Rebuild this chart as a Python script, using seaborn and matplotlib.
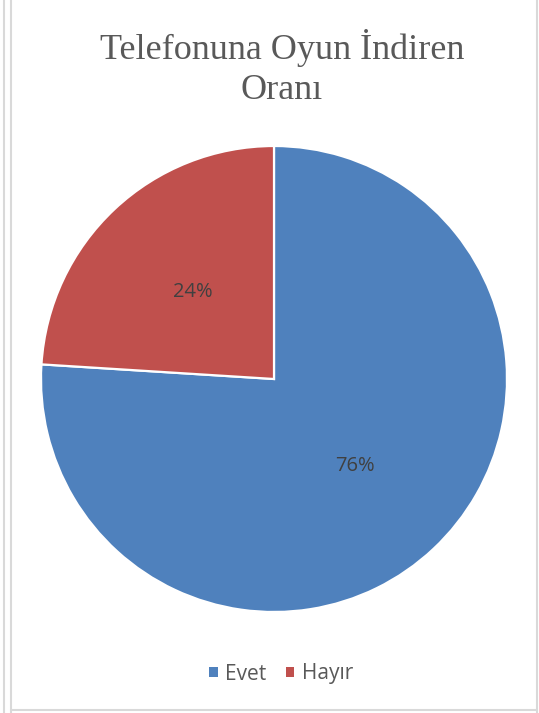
import matplotlib
matplotlib.use("Agg")
import matplotlib.pyplot as plt
from matplotlib.lines import Line2D
from matplotlib.patches import Patch
import seaborn as sns

categories = ["Evet", "Hayır"]
values = [76, 24]
colors = ["#4F81BD", "#C0504D"]
title = "Telefonuna Oyun İndiren\nOranı"

sns.set_theme(style="white")
plt.rcParams["font.family"] = ["Open Sans", "DejaVu Sans"]

W, H = 539, 713
fig = plt.figure(figsize=(W / 100, H / 100), dpi=100)

# pie area: centre (274, 379) px, radius 233 px
cx, cy, r = 274, 379, 233
ax = fig.add_axes([(cx - r) / W, (H - cy - r) / H, 2 * r / W, 2 * r / H])
wedges, texts, autotexts = ax.pie(
    values,
    colors=colors,
    startangle=90,
    counterclock=False,
    autopct="%1.0f%%",
    pctdistance=0.51,
    wedgeprops=dict(edgecolor="white", linewidth=1.6),
    textprops=dict(color="#404040", fontsize=14.5),
)
ax.set_xlim(-1, 1)
ax.set_ylim(-1, 1)
ax.set_aspect("auto")
ax.axis("off")

fig.text(282 / W, 1 - 68 / H, title, ha="center", va="center",
         fontsize=26, color="#595959", family=["Liberation Serif", "DejaVu Serif"],
         linespacing=1.3)

handles = [Patch(facecolor=c, edgecolor="none") for c in colors]
fig.legend(handles, categories, loc="center", bbox_to_anchor=(281 / W, 1 - 674 / H),
           ncol=2, frameon=False, fontsize=15, handlelength=0.4, handleheight=0.4,
           handletextpad=0.35, columnspacing=0.95, labelcolor="#595959")

# frame lines around the chart
gray = "#D9D9D9"
for x in (3.5, 10.5):
    fig.add_artist(Line2D([x / W, x / W], [0, 1], color=gray, lw=1.5, transform=fig.transFigure))
fig.add_artist(Line2D([536.5 / W, 536.5 / W], [0, 1], color=gray, lw=1.5, transform=fig.transFigure))
fig.add_artist(Line2D([10.5 / W, 536.5 / W], [1 - 709.5 / H, 1 - 709.5 / H], color=gray, lw=1.5,
                      transform=fig.transFigure))

fig.savefig("out.png", dpi=100, facecolor="white")
